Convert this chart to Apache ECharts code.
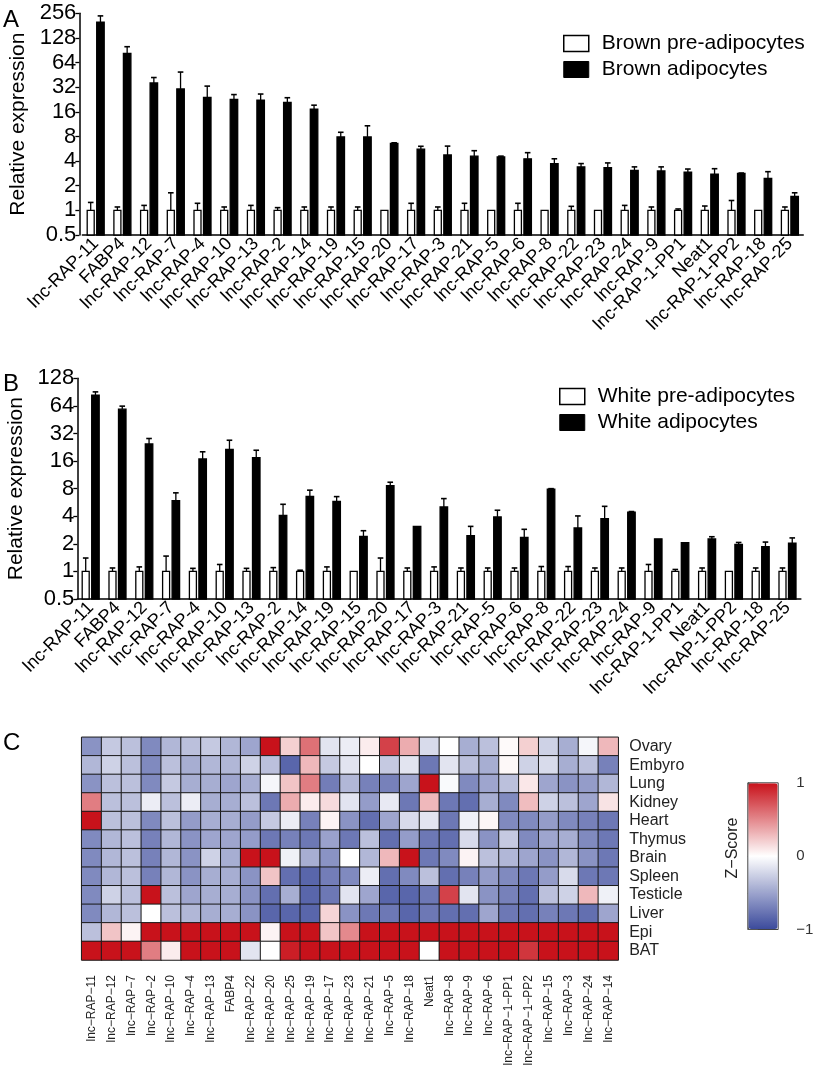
<!DOCTYPE html>
<html>
<head>
<meta charset="utf-8">
<script src="https://cdn.jsdelivr.net/npm/echarts@6/dist/echarts.min.js"></script>
<style>html,body{margin:0;padding:0;background:#fff}#c{width:815px;height:1090px}</style>
</head>
<body>
<div id="c"></div>
<script>
// ---------- Panels A & B: categories ----------
const barCats = ['lnc-RAP-11','FABP4','lnc-RAP-12','lnc-RAP-7','lnc-RAP-4','lnc-RAP-10','lnc-RAP-13','lnc-RAP-2','lnc-RAP-14','lnc-RAP-19','lnc-RAP-15','lnc-RAP-20','lnc-RAP-17','lnc-RAP-3','lnc-RAP-21','lnc-RAP-5','lnc-RAP-6','lnc-RAP-8','lnc-RAP-22','lnc-RAP-23','lnc-RAP-24','lnc-RAP-9','lnc-RAP-1-PP1','Neat1','lnc-RAP-1-PP2','lnc-RAP-18','lnc-RAP-25'];
const yTicksA = [0.5,1,2,4,8,16,32,64,128,256];
const yTicksB = [0.5,1,2,4,8,16,32,64,128];

// Panel A (brown)
const brownPre    = [1,1,1,1,1,1,1,1,1,1,1,1,1,1,1,1,1,1,1,1,1,1,1,1,1,1,1];
const brownPreErr = [1.25,1.1,1.15,1.64,1.22,1.1,1.15,1.08,1.1,1.1,1.1,1.0,1.22,1.1,1.22,1.0,1.22,1.0,1.12,1.0,1.15,1.1,1.04,1.13,1.32,1.0,1.1];
const brownAdi    = [200,83,36,30.5,24,22.7,22.3,20.8,17.2,7.9,7.9,6.6,5.6,4.75,4.6,4.5,4.27,3.73,3.4,3.33,3.08,3.03,2.94,2.78,2.83,2.45,1.48];
const brownAdiErr = [238,100,42,49,33,26,26.4,23.8,19.3,9.0,10.8,6.7,6.07,6.1,5.36,4.6,5.07,4.27,3.73,3.8,3.4,3.4,3.2,3.23,2.86,2.97,1.64];

// Panel B (white)
const whitePre    = [1,1,1,1,1,1,1,1,1,1,1,1,1,1,1,1,1,1,1,1,1,1,1,1,1,1,1];
const whitePreErr = [1.4,1.09,1.12,1.47,1.08,1.19,1.08,1.1,1.03,1.12,1.0,1.4,1.09,1.12,1.09,1.09,1.09,1.13,1.13,1.09,1.09,1.19,1.05,1.09,1.0,1.09,1.09];
const whiteAdi    = [84,59,24.6,5.93,16.9,21.4,17.4,4.09,6.6,5.8,2.41,8.64,3.1,5.05,2.45,3.93,2.35,7.88,2.98,3.76,4.42,2.27,2.06,2.26,1.97,1.86,2.04];
const whiteAdiErr = [91,63.6,28.2,7.2,20.2,27,21,5.4,7.7,6.55,2.78,9.4,3.1,6.23,3.1,4.65,2.88,8.0,4.03,5.13,4.5,2.27,2.06,2.39,2.07,2.09,2.32];

// ---------- Panel C: heatmap ----------
const heatCols = ['lnc−RAP−11','lnc−RAP−12','lnc−RAP−7','lnc−RAP−2','lnc−RAP−10','lnc−RAP−4','lnc−RAP−13','FABP4','lnc−RAP−22','lnc−RAP−20','lnc−RAP−25','lnc−RAP−19','lnc−RAP−17','lnc−RAP−23','lnc−RAP−21','lnc−RAP−5','lnc−RAP−18','Neat1','lnc−RAP−8','lnc−RAP−9','lnc−RAP−6','lnc−RAP−1−PP1','lnc−RAP−1−PP2','lnc−RAP−15','lnc−RAP−3','lnc−RAP−24','lnc−RAP−14'];
const heatRowNames = ['Ovary','Embyro','Lung','Kidney','Heart','Thymus','Brain','Spleen','Testicle','Liver','Epi','BAT'];
const heatOvary    = [-0.6,-0.3,-0.35,-0.65,-0.4,-0.35,-0.3,-0.4,-0.5,1,0.2,0.6,-0.15,-0.1,0.08,0.8,0.35,-0.2,0,-0.45,-0.35,0.02,0.2,-0.25,-0.45,-0.05,0.3];
const heatEmbyro   = [-0.4,-0.25,-0.35,-0.65,-0.35,-0.45,-0.4,-0.4,-0.25,-0.35,-0.85,0.3,-0.3,-0.15,0,-0.3,-0.15,-0.75,-0.15,-0.35,-0.45,0.03,-0.25,-0.2,-0.45,-0.35,-0.7];
const heatLung     = [-0.6,-0.35,-0.35,-0.65,-0.3,-0.45,-0.45,-0.5,-0.45,-0.05,0.25,0.55,-0.72,-0.4,-0.7,-0.7,-0.5,1,-0.03,-0.65,-0.5,-0.35,0.1,-0.5,-0.6,-0.55,-0.4];
const heatKidney   = [0.55,-0.35,-0.35,-0.1,-0.35,-0.1,-0.45,-0.45,-0.35,-0.75,0.35,0.08,0.15,-0.15,-0.55,-0.12,-0.75,0.3,-0.75,-0.8,-0.45,-0.65,0.28,-0.25,-0.35,-0.5,0.12];
const heatHeart    = [1,-0.35,-0.35,-0.65,-0.35,-0.55,-0.45,-0.45,-0.55,-0.3,-0.1,-0.7,0.05,-0.6,-0.8,-0.5,-0.2,-0.15,-0.75,-0.08,0.04,-0.65,-0.65,-0.55,-0.65,-0.7,-0.75];
const heatThymus   = [-0.65,-0.4,-0.35,-0.7,-0.4,-0.6,-0.5,-0.5,-0.55,-0.75,-0.7,-0.75,-0.52,-0.75,-0.35,-0.8,-0.55,-0.75,-0.8,-0.2,-0.6,-0.3,-0.65,-0.5,-0.45,-0.65,-0.75];
const heatBrain    = [-0.65,-0.4,-0.35,-0.7,-0.4,-0.6,-0.25,-0.45,1,1,-0.08,-0.45,-0.6,0,-0.4,0.3,1,-0.75,-0.65,0.05,-0.35,-0.4,-0.5,-0.6,-0.4,-0.6,-0.75];
const heatSpleen   = [-0.65,-0.4,-0.35,-0.7,-0.4,-0.6,-0.45,-0.45,-0.6,0.25,-0.8,-0.85,-0.72,-0.65,-0.1,-0.8,-0.65,-0.35,-0.8,-0.7,-0.55,-0.65,-0.75,-0.55,-0.2,-0.75,-0.75];
const heatTesticle = [-0.65,-0.25,-0.35,1,-0.35,-0.5,-0.45,-0.45,-0.6,-0.8,-0.45,-0.85,-0.75,-0.15,-0.5,-0.85,-0.85,-0.75,0.8,-0.15,-0.6,-0.7,-0.8,-0.35,-0.25,0.3,-0.08];
const heatLiver    = [-0.65,-0.4,-0.35,0,-0.35,-0.4,-0.45,-0.45,-0.6,-0.85,-0.85,-0.85,0.18,-0.6,-0.75,-0.75,-0.85,-0.75,-0.8,-0.8,-0.5,-0.75,-0.8,-0.7,-0.75,-0.8,-0.5];
const heatEpi      = [-0.35,0.25,0.05,1,1,1,1,1,1,0.05,1,1,0.25,0.5,1,1,1,1,1,1,1,1,1,1,1,1,1];
const heatBAT      = [1,1,1,0.55,0.08,1,1,1,-0.15,0,0.95,1,1,1,1,1,1,0,1,1,1,1,0.85,1,1,1,1];
const colorbarTicks = [-1,-0.5,0,0.5,1];

const heatRows = [heatOvary,heatEmbyro,heatLung,heatKidney,heatHeart,heatThymus,heatBrain,heatSpleen,heatTesticle,heatLiver,heatEpi,heatBAT];
const heatData = [];
heatRows.forEach((row, r) => row.forEach((v, c) => heatData.push([c, r, v])));

const FONT = 'Liberation Sans, Arial, Helvetica, sans-serif';

function barRenderer(offset, width, fill) {
  return function (params, api) {
    const i = api.value(0), v = api.value(1), e = api.value(2);
    const pt = api.coord([i, v]);
    const base = api.coord([i, 0.5]);
    const ep = api.coord([i, e]);
    const cx = pt[0] + offset;
    const children = [{
      type: 'rect',
      shape: { x: cx - width / 2, y: pt[1], width: width, height: base[1] - pt[1] },
      style: { fill: fill, stroke: '#000', lineWidth: 1.3 }
    }];
    if (e > v) {
      children.push({ type: 'line', shape: { x1: cx, y1: pt[1], x2: cx, y2: ep[1] }, style: { stroke: '#000', lineWidth: 1.3 } });
      children.push({ type: 'line', shape: { x1: cx - 2.8, y1: ep[1], x2: cx + 2.8, y2: ep[1] }, style: { stroke: '#000', lineWidth: 1.6 } });
    }
    return { type: 'group', children: children };
  };
}

function barSeries(name, gi, vals, errs, offset, width, fill) {
  return {
    type: 'custom', name: name, xAxisIndex: gi, yAxisIndex: gi,
    renderItem: barRenderer(offset, width, fill),
    data: vals.map((v, i) => [i, v, errs[i]]),
    encode: { x: 0, y: 1 },
    itemStyle: { color: fill, borderColor: '#000' },
    silent: true
  };
}

function catAxis(gi) {
  return {
    type: 'category', gridIndex: gi, data: barCats, boundaryGap: true,
    axisLine: { lineStyle: { color: '#000', width: 1.5 } },
    axisTick: { alignWithLabel: true, length: 5, lineStyle: { color: '#000', width: 1.3 } },
    axisLabel: { rotate: 45, interval: 0, fontSize: 18, margin: 6, color: '#000', fontFamily: FONT }
  };
}
function logAxis(gi, max, ticks, offset) {
  return {
    type: 'log', logBase: 2, gridIndex: gi, min: ticks[0], max: max, offset: offset,
    name: 'Relative expression', nameLocation: 'middle', nameRotate: 90, nameGap: 50,
    nameTextStyle: { fontSize: 21, color: '#000', fontFamily: FONT },
    axisLine: { show: true, lineStyle: { color: '#000', width: 1.5 } },
    axisTick: { show: true, length: 4, lineStyle: { color: '#000', width: 1.3 } },
    axisLabel: { fontSize: 22, margin: 3, color: '#000', fontFamily: FONT,
      formatter: v => { const t = ticks.find(k => Math.abs(k - v) < 1e-6 * k); return t !== undefined ? String(t) : ''; } },
    splitLine: { show: false }, minorTick: { show: false }
  };
}

const option = {
  animation: false,
  textStyle: { fontFamily: FONT },
  grid: [
    { left: 82.35, top: 13.3, width: 720.9, height: 221.7, outerBoundsMode: 'none' },
    { left: 77.3, top: 378.3, width: 723.6, height: 220.7, outerBoundsMode: 'none' },
    { left: 81.7, top: 737.3, width: 536.5, height: 222.7, outerBoundsMode: 'none' },
    { left: 747.8, top: 782.8, width: 30.4, height: 146.7, show: true, borderColor: '#444', borderWidth: 1, backgroundColor: 'transparent', outerBoundsMode: 'none' }
  ],
  xAxis: [
    catAxis(0), catAxis(1),
    { type: 'category', gridIndex: 2, data: heatCols, position: 'bottom',
      axisLine: { show: false }, axisTick: { show: false }, splitArea: { show: false },
      axisLabel: { rotate: 90, interval: 0, fontSize: 12, margin: 15, color: '#222', fontFamily: FONT } },
    { type: 'value', gridIndex: 3, show: false, min: 0, max: 1 }
  ],
  yAxis: [
    logAxis(0, 256, yTicksA, 3),
    logAxis(1, 128, yTicksB, 0),
    { type: 'category', gridIndex: 2, data: heatRowNames, inverse: true, position: 'right',
      axisLine: { show: false }, axisTick: { show: false }, splitArea: { show: false },
      axisLabel: { interval: 0, fontSize: 16, margin: 11, color: '#222', align: 'left', fontFamily: FONT } },
    { type: 'value', gridIndex: 3, min: colorbarTicks[0], max: colorbarTicks[colorbarTicks.length - 1], interval: 0.5,
      position: 'right', offset: 2,
      axisLine: { show: true, lineStyle: { color: '#555', width: 1 } },
      axisTick: { show: true, length: 10, lineStyle: { color: '#555', width: 1 } },
      splitLine: { show: false },
      axisLabel: { fontSize: 15, margin: 16, color: '#333', fontFamily: FONT,
        formatter: v => (v === 1 ? '1' : v === 0 ? '0' : v === -1 ? '−1' : '') } }
  ],
  legend: [
    { orient: 'vertical', left: 563, top: 33, itemWidth: 25, itemHeight: 16, itemGap: 5, padding: 0, icon: 'rect',
      selectedMode: false,
      textStyle: { fontSize: 21, color: '#000', lineHeight: 21, padding: [0, 0, 0, 8], fontFamily: FONT },
      data: [
        { name: 'Brown pre-adipocytes', itemStyle: { color: '#fff', borderColor: '#000', borderWidth: 1.5 } },
        { name: 'Brown adipocytes', itemStyle: { color: '#000', borderColor: '#000', borderWidth: 1 } }
      ] },
    { orient: 'vertical', left: 559, top: 386, itemWidth: 25, itemHeight: 16, itemGap: 5, padding: 0, icon: 'rect',
      selectedMode: false,
      textStyle: { fontSize: 21, color: '#000', lineHeight: 21, padding: [0, 0, 0, 8], fontFamily: FONT },
      data: [
        { name: 'White pre-adipocytes', itemStyle: { color: '#fff', borderColor: '#000', borderWidth: 1.5 } },
        { name: 'White adipocytes', itemStyle: { color: '#000', borderColor: '#000', borderWidth: 1 } }
      ] }
  ],
  visualMap: {
    type: 'continuous', seriesIndex: 4, min: -1, max: 1, orient: 'vertical',
    left: 748.3, top: 783.3, itemWidth: 29.4, itemHeight: 145.7, padding: 0,
    calculable: false, realtime: false, hoverLink: false,
    inRange: { color: ['#3c4b9c', '#ffffff', '#c8121b'] }
  },
  graphic: [
    { type: 'text', left: 3, top: 8, style: { text: 'A', font: '24px ' + FONT, fill: '#000' } },
    { type: 'text', left: 3, top: 372, style: { text: 'B', font: '24px ' + FONT, fill: '#000' } },
    { type: 'text', left: 3, top: 731, style: { text: 'C', font: '24px ' + FONT, fill: '#000' } },
    { type: 'text', x: 733, y: 848, rotation: Math.PI / 2,
      style: { text: 'Z−Score', font: '16px ' + FONT, fill: '#222', align: 'center', verticalAlign: 'middle' } }
  ],
  series: [
    barSeries('Brown pre-adipocytes', 0, brownPre, brownPreErr, -5, 7, '#fff'),
    barSeries('Brown adipocytes', 0, brownAdi, brownAdiErr, 4.75, 7.5, '#000'),
    barSeries('White pre-adipocytes', 1, whitePre, whitePreErr, -5, 7, '#fff'),
    barSeries('White adipocytes', 1, whiteAdi, whiteAdiErr, 4.75, 7.5, '#000'),
    { type: 'heatmap', xAxisIndex: 2, yAxisIndex: 2, data: heatData, silent: true,
      itemStyle: { borderColor: '#1a1a1a', borderWidth: 1 }, emphasis: { disabled: true } }
  ]
};

const chart = echarts.init(document.getElementById('c'), null, { renderer: 'canvas' });
chart.setOption(option);
</script>
</body>
</html>
